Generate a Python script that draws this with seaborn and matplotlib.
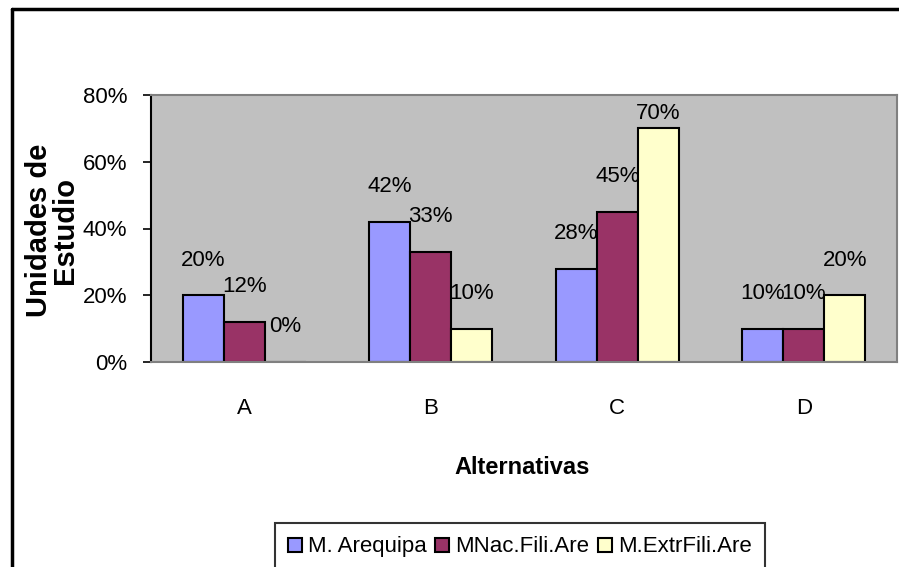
import numpy as np
import pandas as pd
import matplotlib
matplotlib.use('Agg')
import matplotlib.pyplot as plt
import seaborn as sns
from matplotlib.lines import Line2D

# data
alternativas = ['A', 'B', 'C', 'D']
arequipa = [0.20, 0.42, 0.28, 0.10]
nac_fili = [0.12, 0.33, 0.45, 0.10]
extr_fili = [0.00, 0.10, 0.70, 0.20]
series = ['M. Arequipa', 'MNac.Fili.Are', 'M.ExtrFili.Are']
colores = ['#9999FF', '#993366', '#FFFFCC']

df = pd.DataFrame({
    'alt': alternativas * 3,
    'serie': [s for s in series for _ in alternativas],
    'valor': arequipa + nac_fili + extr_fili,
})

sns.set_style('white')
plt.rcParams['font.family'] = ['Liberation Sans', 'DejaVu Sans']
plt.rcParams['text.color'] = 'black'
plt.rcParams['xtick.color'] = 'black'
plt.rcParams['ytick.color'] = 'black'

W, H = 899, 567
fig = plt.figure(figsize=(W / 100, H / 100), dpi=100)
ax = fig.add_axes([151 / W, 1 - 362 / H, (897 - 151) / W, (362 - 95) / H])
ax.set_facecolor('#C0C0C0')

sns.barplot(data=df, x='alt', y='valor', hue='serie', palette=colores,
            width=0.66, gap=0, edgecolor='black', linewidth=1.5,
            saturation=1, legend=False, ax=ax)

ax.set_xlim(-0.5, 3.5)
ax.set_ylim(0, 0.8)
yt = np.arange(0, 0.81, 0.2)
ax.set_yticks(yt)
ax.set_yticklabels([f'{int(round(t * 100))}%' for t in yt])
ax.tick_params(axis='y', left=True, length=6, width=1.2, color='black',
               labelcolor='black', pad=11, labelsize=16)
ax.tick_params(axis='x', bottom=False, length=0, pad=26, labelsize=16,
               labelcolor='black')
ax.set_xlabel('')
ax.set_ylabel('')

for side in ['top', 'right', 'bottom']:
    ax.spines[side].set_color('#808080')
    ax.spines[side].set_linewidth(1.5)
ax.spines['left'].set_color('black')
ax.spines['left'].set_linewidth(1.5)

# data labels above bars
for cont in ax.containers:
    for bar in cont:
        h = bar.get_height()
        y = min(h + 0.105, 0.745)
        ax.text(bar.get_x() + bar.get_width() / 2, y, f'{int(round(h * 100))}%',
                ha='center', va='center', fontsize=16, color='black')

fig.text(52 / W, 1 - 230 / H, 'Unidades de\nEstudio', rotation=90,
         ha='center', va='center', fontsize=21, fontweight='bold',
         linespacing=0.95, color='black')
fig.text(522 / W, 1 - 467 / H, 'Alternativas', ha='center', va='center',
         fontsize=17, fontweight='bold', color='black')

handles = [Line2D([0], [0], marker='s', linestyle='none', markersize=10,
                  markerfacecolor=c, markeredgecolor='black', markeredgewidth=1.5)
           for c in colores]
leg = fig.legend(handles, series, loc='upper center', ncol=3,
                 bbox_to_anchor=(520 / W, 1 - 512 / H), fontsize=16,
                 frameon=True, fancybox=False, edgecolor='black',
                 handlelength=0.6, handletextpad=0.3, columnspacing=0.4,
                 borderpad=0.6)
leg.get_frame().set_linewidth(1.5)

# outer chart border (right/bottom edges fall outside the picture)
fig.add_artist(Line2D([12 / W, 1.0], [1 - 9 / H, 1 - 9 / H], color='black',
                      linewidth=2.5, transform=fig.transFigure))
fig.add_artist(Line2D([12 / W, 12 / W], [0, 1 - 9 / H], color='black',
                      linewidth=2.5, transform=fig.transFigure))

fig.savefig('out.png', dpi=100)
